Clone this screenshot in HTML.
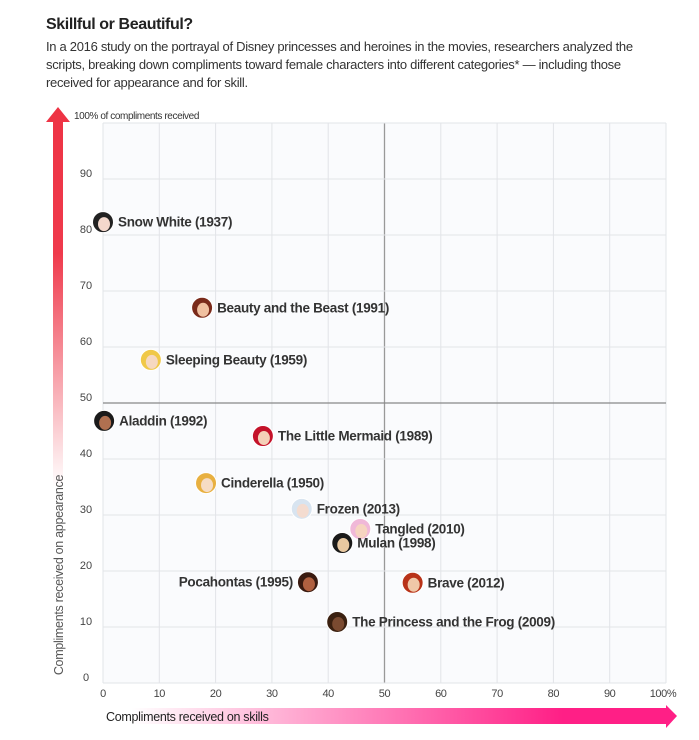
<!DOCTYPE html>
<html><head><meta charset="utf-8">
<style>
body{margin:0;background:#fff;width:699px;height:740px;overflow:hidden;font-family:"Liberation Sans",sans-serif;color:#222}
#title{position:absolute;left:46px;top:16px;font-size:16px;font-weight:bold;letter-spacing:-0.4px;color:#222}
#sub{position:absolute;left:46px;top:38px;width:622px;font-size:13px;line-height:18px;letter-spacing:-0.3px;color:#333}
svg{position:absolute;left:0;top:0}
</style></head>
<body>
<div id="title">Skillful or Beautiful?</div>
<div id="sub">In a 2016 study on the portrayal of Disney princesses and heroines in the movies, researchers analyzed the scripts, breaking down compliments toward female characters into different categories* — including those received for appearance and for skill.</div>
<svg id="chart" width="699" height="740">
<defs>
<linearGradient id="vg" x1="0" y1="1" x2="0" y2="0"><stop offset="0.35" stop-color="#fff"/><stop offset="0.75" stop-color="#ef3a4c"/><stop offset="1" stop-color="#ee3344"/></linearGradient>
<linearGradient id="hg" x1="0" y1="0" x2="1" y2="0"><stop offset="0.05" stop-color="#fff"/><stop offset="0.6" stop-color="#ff5aa6"/><stop offset="0.8" stop-color="#ff1f86"/></linearGradient>
</defs>
</svg>
<script>
const names=["Snow White (1937)","Beauty and the Beast (1991)","Sleeping Beauty (1959)","Aladdin (1992)","The Little Mermaid (1989)","Cinderella (1950)","Frozen (2013)","Tangled (2010)","Mulan (1998)","Pocahontas (1995)","Brave (2012)","The Princess and the Frog (2009)"];
const skills=[0,17.6,8.5,0.2,28.4,18.3,35.3,45.7,42.5,36.4,55,41.6];
const appearance=[82.3,67,57.7,46.8,44.1,35.7,31.1,27.5,25,18,17.9,10.9];
const hairColors=["#222","#7a2a1a","#f0c848","#1a1a1a","#c4122a","#e8b040","#d8e4f0","#f0b8d8","#1a1a1a","#3a1a10","#b83218","#3a2010"];
const skinColors=["#f4d8cc","#f0c0a0","#f6d8c0","#b07050","#f4d0b8","#f6dcc4","#f4dcd0","#f6d4c0","#e8c8a0","#b06040","#f0c8a8","#7a4a30"];
const xTicks=[0,10,20,30,40,50,60,70,80,90,100];
const yTicks=[0,10,20,30,40,50,60,70,80,90];
const NS="http://www.w3.org/2000/svg";
const svg=document.getElementById('chart');
const L=103,R=666,T=123,B=683;
const xs=v=>L+(R-L)*v/100, ys=v=>B-(B-T)*v/100;
function el(t,a,p){const e=document.createElementNS(NS,t);for(const k in a)e.setAttribute(k,a[k]);(p||svg).appendChild(e);return e;}
const bg=el('rect',{x:L,y:T,width:R-L,height:B-T,fill:'#fafbfd'});


xTicks.forEach(v=>{
 const g=el('line',{x1:xs(v),x2:xs(v),y1:T,y2:B,stroke:v==50?'#999':'#e2e4e8','stroke-width':v==50?1.3:1});
 
 
 const t=el('text',{x:xs(v)+(v==100?-3:0),y:B+14,'text-anchor':'middle','font-size':11,fill:'#444','letter-spacing':'-0.4'});
 t.textContent=v==100?'100%':v;
 
 
});
[...yTicks,100].forEach(v=>{
 const g=el('line',{x1:L,x2:R,y1:ys(v),y2:ys(v),stroke:v==50?'#888':'#e2e4e8','stroke-width':v==50?1.3:1});
 
 
});
yTicks.forEach(v=>{
 const t=el('text',{x:86,y:ys(v)-2,'text-anchor':'middle','font-size':11,fill:'#444'});
 t.textContent=v;
 
 
});
const tt=el('text',{x:74,y:119,'font-size':10,fill:'#333','letter-spacing':'-0.4'});
tt.textContent='100% of compliments received';


const va=el('path',{d:'M53,692 L53,122 L46,122 L58,107 L70,122 L63,122 L63,692 Z',fill:'url(#vg)'});


const yt=el('text',{x:0,y:0,transform:'translate(63,575) rotate(-90)','text-anchor':'middle','font-size':12.5,fill:'#555','letter-spacing':'-0.3'});
yt.textContent='Compliments received on appearance';


const ha=el('path',{d:'M103,708 L666,708 L666,705 L677,716 L666,728 L666,724 L103,724 Z',fill:'url(#hg)'});


const xt=el('text',{x:106,y:721,'font-size':12.5,fill:'#222','letter-spacing':'-0.3'});
xt.textContent='Compliments received on skills';


names.forEach((n,i)=>{
 const cx=xs(skills[i]),cy=ys(appearance[i]);
 const g=el('g',{});
 
 
 el('circle',{cx:cx,cy:cy,r:10.5,fill:hairColors[i],stroke:'#fff','stroke-width':1},g);
 el('ellipse',{cx:cx+1,cy:cy+2,rx:6,ry:7,fill:skinColors[i]},g);
 const left=i==9;
 const t=el('text',{x:left?cx-15:cx+15,y:cy+4.5,'text-anchor':left?'end':'start','font-size':13.5,'font-weight':'bold',fill:'#333','letter-spacing':'-0.3'},g);
 t.textContent=n;
 
 
});
</script>
</body></html>
